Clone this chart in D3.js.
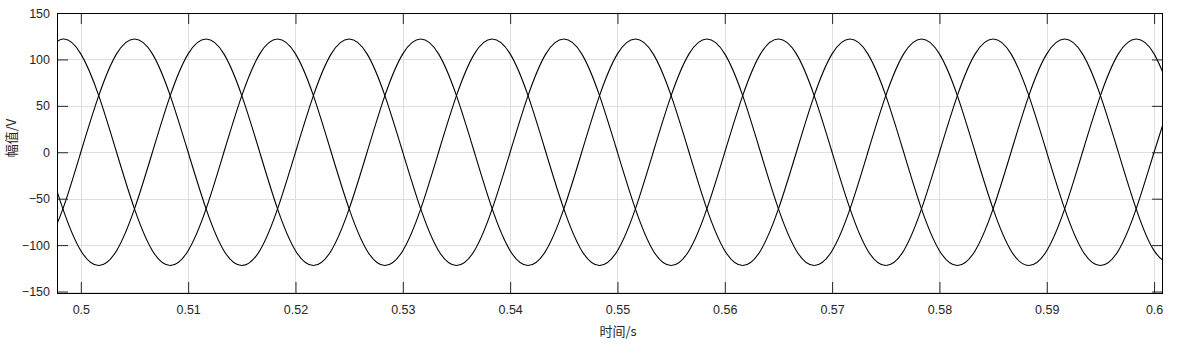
<!DOCTYPE html>
<html>
<head>
<meta charset="utf-8">
<script src="https://cdn.jsdelivr.net/npm/d3@7"></script>
<style>
body { margin: 0; background: #fff; }
svg { display: block; font-family: "Liberation Sans", Arial, sans-serif; }
</style>
</head>
<body>
<svg id="chart" width="1182" height="346"></svg>
<script>
// sample times (s), every 1/12 of a 50 Hz period
var times = [
  0.49667, 0.49833, 0.5, 0.50167, 0.50333, 0.505, 0.50667, 0.50833, 0.51, 0.51167, 0.51333, 0.515,
  0.51667, 0.51833, 0.52, 0.52167, 0.52333, 0.525, 0.52667, 0.52833, 0.53, 0.53167, 0.53333, 0.535,
  0.53667, 0.53833, 0.54, 0.54167, 0.54333, 0.545, 0.54667, 0.54833, 0.55, 0.55167, 0.55333, 0.555,
  0.55667, 0.55833, 0.56, 0.56167, 0.56333, 0.565, 0.56667, 0.56833, 0.57, 0.57167, 0.57333, 0.575,
  0.57667, 0.57833, 0.58, 0.58167, 0.58333, 0.585, 0.58667, 0.58833, 0.59, 0.59167, 0.59333, 0.595,
  0.59667, 0.59833, 0.6, 0.60167
];

// phase voltages (V) read at those times
var phaseA = [
  -106, -61, 0, 61, 106, 122, 106, 61, 0, -61, -106, -122,
  -106, -61, 0, 61, 106, 122, 106, 61, 0, -61, -106, -122,
  -106, -61, 0, 61, 106, 122, 106, 61, 0, -61, -106, -122,
  -106, -61, 0, 61, 106, 122, 106, 61, 0, -61, -106, -122,
  -106, -61, 0, 61, 106, 122, 106, 61, 0, -61, -106, -122,
  -106, -61, 0, 61
];
var phaseB = [
  0, -61, -106, -122, -106, -61, 0, 61, 106, 122, 106, 61,
  0, -61, -106, -122, -106, -61, 0, 61, 106, 122, 106, 61,
  0, -61, -106, -122, -106, -61, 0, 61, 106, 122, 106, 61,
  0, -61, -106, -122, -106, -61, 0, 61, 106, 122, 106, 61,
  0, -61, -106, -122, -106, -61, 0, 61, 106, 122, 106, 61,
  0, -61, -106, -122
];
var phaseC = [
  106, 122, 106, 61, 0, -61, -106, -122, -106, -61, 0, 61,
  106, 122, 106, 61, 0, -61, -106, -122, -106, -61, 0, 61,
  106, 122, 106, 61, 0, -61, -106, -122, -106, -61, 0, 61,
  106, 122, 106, 61, 0, -61, -106, -122, -106, -61, 0, 61,
  106, 122, 106, 61, 0, -61, -106, -122, -106, -61, 0, 61,
  106, 122, 106, 61
];

var xTicks = [0.5, 0.51, 0.52, 0.53, 0.54, 0.55, 0.56, 0.57, 0.58, 0.59, 0.6];
var xTickLabels = ["0.5", "0.51", "0.52", "0.53", "0.54", "0.55", "0.56", "0.57", "0.58", "0.59", "0.6"];
var yTicks = [-150, -100, -50, 0, 50, 100, 150];
var xLabel = "时间/s";
var yLabel = "幅值/V";

var svg = d3.select("#chart");
var pL = 57, pR = 1163, pT = 13, pB = 293;
var axisColor = "#262626";

var x = d3.scaleLinear().domain([0.49778, 0.60083]).range([pL, pR]);
var y = d3.scaleLinear().domain([-151.6, 150]).range([pB, pT]);

// grid
var grid = svg.append("g").attr("stroke", "#dedede").attr("stroke-width", 1);
grid.selectAll(".gx").data(xTicks).enter().append("line")
    .attr("x1", function(d) { return Math.round(x(d)) + 0.5; })
    .attr("x2", function(d) { return Math.round(x(d)) + 0.5; })
    .attr("y1", pT).attr("y2", pB);
grid.selectAll(".gy").data(yTicks).enter().append("line")
    .attr("y1", function(d) { return Math.round(y(d)) + 0.5; })
    .attr("y2", function(d) { return Math.round(y(d)) + 0.5; })
    .attr("x1", pL).attr("x2", pR);

// curves
svg.append("clipPath").attr("id", "clip")
  .append("rect").attr("x", pL).attr("y", pT).attr("width", pR - pL).attr("height", pB - pT);

var line = d3.line()
    .x(function(d) { return x(d[0]); })
    .y(function(d) { return y(d[1]); })
    .curve(d3.curveNatural);

[phaseA, phaseB, phaseC].forEach(function(vals) {
    svg.append("path")
        .datum(times.map(function(t, i) { return [t, vals[i]]; }))
        .attr("clip-path", "url(#clip)")
        .attr("fill", "none")
        .attr("stroke", "#000")
        .attr("stroke-width", 1.1)
        .attr("d", line);
});

// axes, ticks pointing inward
var tl = 11;
function styleAxis(g) {
    g.select(".domain").remove();
    g.selectAll("line").attr("stroke", axisColor);
    g.selectAll("text").attr("fill", axisColor).attr("font-size", "12.5px");
}
svg.append("g").attr("transform", "translate(0," + pB + ")")
    .call(d3.axisBottom(x).tickValues(xTicks).tickSize(-tl).tickPadding(12)
        .tickFormat(function(d, i) { return xTickLabels[i]; }))
    .call(styleAxis);
svg.append("g").attr("transform", "translate(0," + pT + ")")
    .call(d3.axisTop(x).tickValues(xTicks).tickSize(-tl).tickFormat(""))
    .call(styleAxis);
svg.append("g").attr("transform", "translate(" + pL + ",0)")
    .call(d3.axisLeft(y).tickValues(yTicks).tickSize(-tl).tickPadding(7))
    .call(styleAxis);
svg.append("g").attr("transform", "translate(" + pR + ",0)")
    .call(d3.axisRight(y).tickValues(yTicks).tickSize(-tl).tickFormat(""))
    .call(styleAxis);

// frame
svg.append("rect")
    .attr("x", pL + 0.5).attr("y", pT + 0.5)
    .attr("width", pR - pL - 1).attr("height", pB - pT)
    .attr("fill", "none").attr("stroke", "#000").attr("stroke-width", 1);

// axis labels
svg.append("text").attr("x", 618).attr("y", 336)
    .attr("text-anchor", "middle").attr("font-size", "13px").attr("fill", axisColor)
    .attr("font-family", "'Noto Sans CJK SC', sans-serif")
    .text(xLabel);
svg.append("text")
    .attr("transform", "translate(16,138) rotate(-90)")
    .attr("text-anchor", "middle").attr("font-size", "13px").attr("fill", axisColor)
    .attr("font-family", "'Noto Sans CJK SC', sans-serif")
    .text(yLabel);
</script>
</body>
</html>
